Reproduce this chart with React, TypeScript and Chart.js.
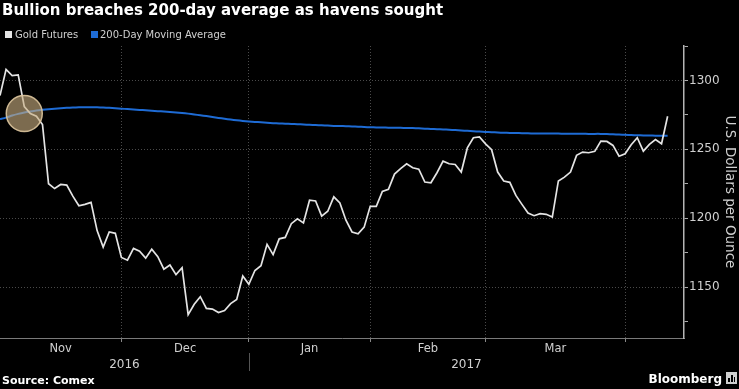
import React, { useEffect, useRef } from "react";
import { Chart, registerables } from "chart.js";

Chart.register(...registerables);

const chartTitle = "Bullion breaches 200-day average as havens sought";
const sourceText = "Source: Comex";
const brandText = "Bloomberg";
const axisTitle = "U.S. Dollars per Ounce";
const legendLabels = ["Gold Futures", "200-Day Moving Average"];

// Trading-day series, Nov 2016 .. Apr 2017
const goldFutures: number[] = [
  // Nov
  1289, 1308, 1303.5, 1304, 1281, 1276, 1274, 1268, 1225, 1221.5, 1224.5, 1224, 1216, 1209, 1210, 1211.5, 1191, 1179, 1190, 1189,
  // Dec
  1171.5, 1169.5, 1178, 1176, 1171, 1177.5, 1172, 1163, 1166, 1159, 1164, 1130, 1137.5, 1143, 1134.5, 1134, 1131.5, 1133, 1138, 1141, 1158,
  // Jan
  1152, 1162, 1165.5, 1181, 1173.5, 1185, 1186, 1196, 1199.5, 1196.5, 1213, 1212.5, 1201.5, 1205, 1215.5, 1211, 1198.5, 1190, 1188.7, 1193.5,
  // Feb
  1208.6, 1208.6, 1219.4, 1221, 1232, 1236, 1239.5, 1236.6, 1235.6, 1226.2, 1225.7, 1233, 1241.4, 1239.5, 1239, 1233.5, 1251, 1258.4, 1259,
  // Mar
  1254, 1249.7, 1233.5, 1227, 1226, 1216.5, 1210, 1203.7, 1201.8, 1203.3, 1202.8, 1200.8, 1227, 1229.8, 1233.5, 1245.6, 1248, 1247.5, 1248.5, 1256, 1255.7, 1252.8, 1245,
  // Apr
  1246.8, 1253.3, 1258.4, 1248.7, 1253.6, 1257, 1254, 1274,
];

const movingAverage: number[] = [
  1272, 1273, 1274.5, 1275.7, 1276.7, 1277.5, 1278.2, 1278.7, 1279.1, 1279.5, 1279.8, 1280.1, 1280.3, 1280.5, 1280.6, 1280.6, 1280.5, 1280.3, 1280.1, 1279.8,
  1279.5, 1279.2, 1278.9, 1278.6, 1278.3, 1278.0, 1277.7, 1277.4, 1277.1, 1276.8, 1276.4, 1275.9, 1275.3, 1274.7, 1274.1, 1273.4, 1272.8, 1272.2, 1271.6, 1271.1, 1270.6,
  1270.2, 1269.9, 1269.6, 1269.3, 1269.0, 1268.8, 1268.6, 1268.4, 1268.2, 1268.0, 1267.8, 1267.6, 1267.4, 1267.2, 1267.0, 1266.9, 1266.8, 1266.6, 1266.4, 1266.2,
  1266.0, 1265.9, 1265.8, 1265.7, 1265.6, 1265.6, 1265.5, 1265.4, 1265.2, 1265.0, 1264.8, 1264.6, 1264.4, 1264.2, 1264.0, 1263.7, 1263.4, 1263.1, 1262.9,
  1262.6, 1262.4, 1262.2, 1262.0, 1261.9, 1261.8, 1261.7, 1261.6, 1261.5, 1261.5, 1261.4, 1261.4, 1261.4, 1261.3, 1261.3, 1261.3, 1261.3, 1261.2, 1261.2, 1261.2, 1261.1, 1260.9, 1260.7,
  1260.5, 1260.3, 1260.2, 1260.1, 1260.0, 1259.9, 1259.8, 1259.8,
];

const monthLabels = ["Nov", "Dec", "Jan", "Feb", "Mar"];
const monthStarts = [0, 20, 41, 61, 80, 103];
const yearLabels = ["2016", "2017"];
const yearStarts = [0, 41];
const yMajorTicks = [1150, 1200, 1250, 1300];
const yMinorTicks = [1125, 1175, 1225, 1275, 1325];
const highlightPoint = { x: 4, y: 1276 };

const goldColor = "#e4e4e4";
const maColor = "#1e6bd4";
const textColor = "#d0d0d0";
const FONT = '"DejaVu Sans", sans-serif';

export default function App() {
  const ref = useRef<HTMLCanvasElement>(null);

  useEffect(() => {
    document.body.style.margin = "0";
    document.body.style.background = "#000";
    const canvas = ref.current;
    if (!canvas) return;

    const overlay = {
      id: "overlay",
      beforeDraw(chart: any) {
        const c = chart.ctx;
        c.save();
        c.fillStyle = "#000";
        c.fillRect(0, 0, chart.width, chart.height);
        c.restore();
      },
      afterDraw(chart: any) {
        const ctx = chart.ctx;
        const xs = chart.scales.x;
        const area = chart.chartArea;
        ctx.save();
        ctx.textBaseline = "alphabetic";
        ctx.textAlign = "left";
        // title
        ctx.fillStyle = "#ffffff";
        ctx.font = `bold 15px ${FONT}`;
        ctx.fillText(chartTitle, 2, 15);
        // legend
        ctx.font = `10px ${FONT}`;
        ctx.fillStyle = goldColor;
        ctx.fillRect(5, 31, 7, 7);
        ctx.fillStyle = textColor;
        ctx.fillText(legendLabels[0], 15, 38);
        ctx.fillStyle = maColor;
        ctx.fillRect(91, 31, 7, 7);
        ctx.fillStyle = textColor;
        ctx.fillText(legendLabels[1], 100, 38);
        // month labels
        ctx.textAlign = "center";
        ctx.font = `11.5px ${FONT}`;
        for (let i = 0; i < monthLabels.length; i++) {
          const a = xs.getPixelForValue(monthStarts[i]);
          const b = xs.getPixelForValue(monthStarts[i + 1]);
          ctx.fillText(monthLabels[i], (a + b) / 2, 352);
        }
        // year labels
        ctx.font = `12px ${FONT}`;
        for (let i = 0; i < yearLabels.length; i++) {
          const a = i === 0 ? area.left : xs.getPixelForValue(yearStarts[i]);
          const b = i + 1 < yearStarts.length ? xs.getPixelForValue(yearStarts[i + 1]) : area.right;
          ctx.fillText(yearLabels[i], (a + b) / 2, 368);
        }
        // year separator
        ctx.strokeStyle = "#555";
        ctx.lineWidth = 1;
        for (let i = 1; i < yearStarts.length; i++) {
          const x = Math.round(xs.getPixelForValue(yearStarts[i])) + 0.5;
          ctx.beginPath();
          ctx.moveTo(x, 353);
          ctx.lineTo(x, 371);
          ctx.stroke();
        }
        // footer
        ctx.textAlign = "left";
        ctx.fillStyle = "#ffffff";
        ctx.font = `bold 11px ${FONT}`;
        ctx.fillText(sourceText, 2, 384);
        ctx.textAlign = "right";
        ctx.font = `bold 12px ${FONT}`;
        ctx.fillText(brandText, 722, 383);
        // brand icon
        ctx.fillStyle = "#cfcfcf";
        ctx.fillRect(726, 372, 11, 12);
        ctx.fillStyle = "#000";
        ctx.fillRect(728, 378, 2, 4);
        ctx.fillRect(731, 375, 2, 7);
        ctx.fillRect(734, 377, 1, 5);
        ctx.restore();
      },
    };

    const chart = new Chart(canvas, {
      type: "line",
      data: {
        datasets: [
          {
            label: "highlight",
            type: "scatter",
            data: [highlightPoint],
            pointRadius: 18,
            pointHoverRadius: 18,
            backgroundColor: "rgba(200,172,128,0.62)",
            borderColor: "rgba(222,198,158,0.9)",
            borderWidth: 1.5,
            clip: false,
          } as any,
          {
            label: legendLabels[0],
            data: goldFutures.map((v, i) => ({ x: i, y: v })),
            borderColor: goldColor,
            borderWidth: 1.7,
            pointRadius: 0,
            tension: 0,
            fill: false,
          },
          {
            label: legendLabels[1],
            data: movingAverage.map((v, i) => ({ x: i, y: v })),
            borderColor: maColor,
            borderWidth: 2,
            pointRadius: 0,
            tension: 0.2,
            fill: false,
          },
        ],
      },
      options: {
        responsive: false,
        animation: false,
        devicePixelRatio: 1,
        layout: { autoPadding: false, padding: { top: 46, left: 0, right: 0, bottom: 0 } },
        plugins: {
          legend: { display: false },
          title: { display: false },
          tooltip: { enabled: false },
        },
        events: [],
        scales: {
          x: {
            type: "linear",
            min: 0,
            max: 112.7,
            afterBuildTicks: (s: any) => {
              s.ticks = monthStarts.slice(1).map((v) => ({ value: v }));
            },
            afterFit: (s: any) => {
              s.height = 51;
            },
            ticks: { display: false },
            grid: {
              color: "#4a4a4a",
              lineWidth: 1,
              drawTicks: true,
              tickLength: 4,
              tickColor: "#888",
            },
            border: { display: true, color: "#7a7a7a", width: 1, dash: [1, 2] },
          },
          y: {
            type: "linear",
            position: "right",
            min: 1113,
            max: 1325,
            afterBuildTicks: (s: any) => {
              s.ticks = [...yMajorTicks, ...yMinorTicks].sort((a, b) => a - b).map((v) => ({ value: v }));
            },
            afterFit: (s: any) => {
              s.width = 55;
            },
            ticks: {
              color: textColor,
              font: { family: "DejaVu Sans", size: 12 },
              padding: 1,
              callback: (v: any) => (yMajorTicks.includes(Number(v)) ? String(v) : ""),
            },
            grid: {
              color: (ctx: any) => (ctx.tick && yMajorTicks.includes(ctx.tick.value) ? "#4a4a4a" : "rgba(0,0,0,0)"),
              lineWidth: 1,
              drawTicks: true,
              tickLength: 4,
              tickColor: "#aaa",
            },
            border: { display: true, color: "#b5b5b5", width: 1.5, dash: [1, 2] },
            title: {
              display: true,
              text: axisTitle,
              color: textColor,
              font: { family: "DejaVu Sans", size: 13.5 },
              padding: { top: 1, bottom: 0 },
            },
          },
        },
      } as any,
      plugins: [overlay],
    });

    return () => chart.destroy();
  }, []);

  return (
    <div style={{ width: 739, height: 389, background: "#000" }}>
      <canvas ref={ref} width={739} height={389} style={{ display: "block" }} />
    </div>
  );
}
